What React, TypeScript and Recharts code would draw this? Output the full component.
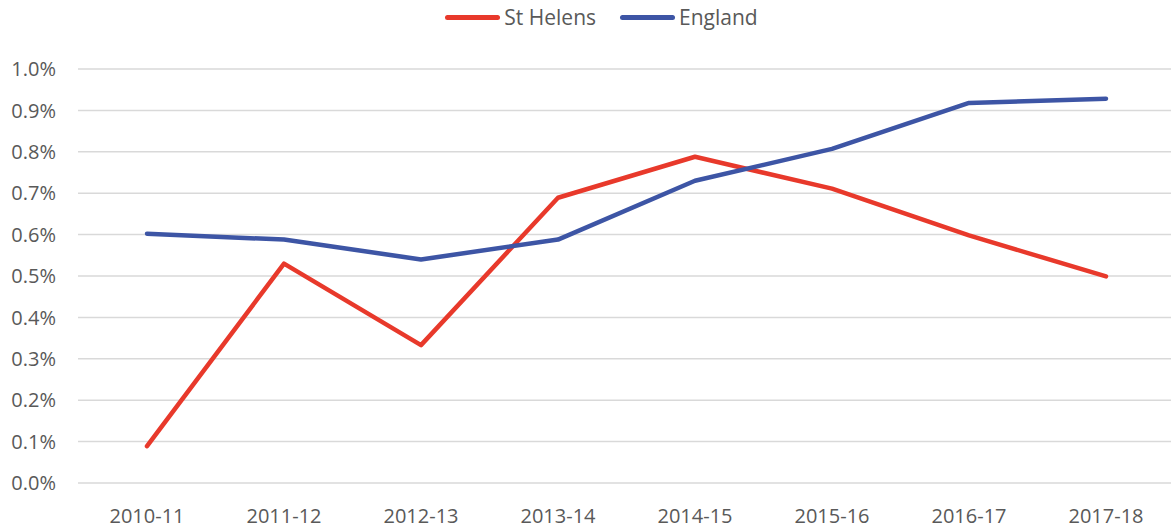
import React from 'react';
import { LineChart, Line, XAxis, YAxis, CartesianGrid } from 'recharts';

const categories = ['2010-11', '2011-12', '2012-13', '2013-14', '2014-15', '2015-16', '2016-17', '2017-18'];
const stHelens = [0.089, 0.53, 0.333, 0.689, 0.788, 0.711, 0.598, 0.499];
const england = [0.602, 0.588, 0.54, 0.588, 0.73, 0.807, 0.918, 0.928];
const yTicks = [0, 0.1, 0.2, 0.3, 0.4, 0.5, 0.6, 0.7, 0.8, 0.9, 1.0];

const RED = '#e8392b';
const BLUE = '#3d55a5';
const TEXT = '#595959';
const FONT = '"Open Sans", "Noto Sans", sans-serif';

const data = categories.map((name, i) => ({
    name,
    stHelens: stHelens[i],
    england: england[i],
}));

const legendItems = [
    { label: 'St Helens', color: RED },
    { label: 'England', color: BLUE },
];

function TopLegend() {
    return (
        <div style={{ position: 'absolute', top: 3, left: 16, width: 1171, display: 'flex', justifyContent: 'center', gap: 24, fontFamily: FONT, fontSize: 21, color: TEXT }}>
            {legendItems.map((item) => (
                <div key={item.label} style={{ display: 'flex', alignItems: 'center', gap: 4 }}>
                    <div style={{ width: 55, height: 5, borderRadius: 3, backgroundColor: item.color }} />
                    <span>{item.label}</span>
                </div>
            ))}
        </div>
    );
}

export default function App() {
    return (
        <div style={{ position: 'absolute', left: 0, top: 0, width: 1171, height: 529, overflow: 'hidden', background: '#fff' }}>
            <LineChart width={1175} height={529} data={data} margin={{ top: 69, right: 0, bottom: 0, left: 0 }}>
                <CartesianGrid vertical={false} stroke="#d9d9d9" strokeWidth={1.5} />
                <XAxis
                    dataKey="name"
                    axisLine={false}
                    tickLine={false}
                    height={46}
                    tickMargin={20}
                    interval={0}
                    padding={{ left: 69, right: 69 }}
                    tick={{ fill: TEXT, fontSize: 20, fontFamily: FONT }}
                />
                <YAxis
                    domain={[0, 1]}
                    ticks={yTicks}
                    width={78}
                    axisLine={false}
                    tickLine={false}
                    tickSize={0}
                    tickMargin={22}
                    tickFormatter={(v: number) => `${v.toFixed(1)}%`}
                    tick={{ fill: TEXT, fontSize: 20, fontFamily: FONT }}
                />
                <Line type="linear" dataKey="stHelens" name="St Helens" stroke={RED} strokeWidth={4.5} strokeLinecap="round" strokeLinejoin="round" dot={false} isAnimationActive={false} />
                <Line type="linear" dataKey="england" name="England" stroke={BLUE} strokeWidth={4.5} strokeLinecap="round" strokeLinejoin="round" dot={false} isAnimationActive={false} />
            </LineChart>
            <TopLegend />
        </div>
    );
}
